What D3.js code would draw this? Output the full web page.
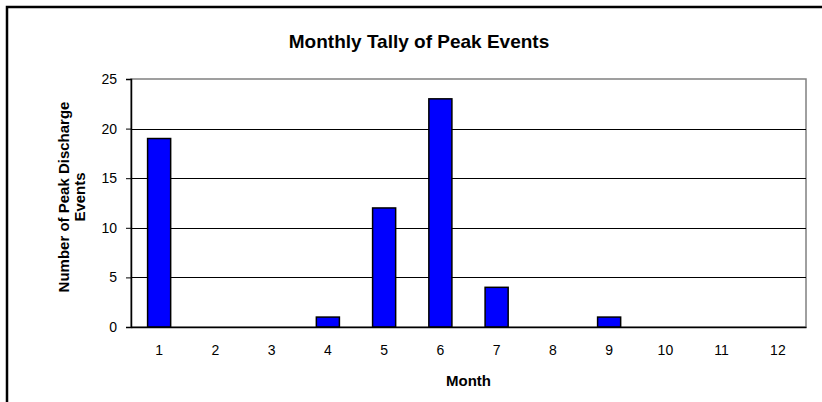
<!DOCTYPE html>
<html>
<head>
<meta charset="utf-8">
<script src="https://cdn.jsdelivr.net/npm/d3@7"></script>
<style>
  body { margin: 0; background: #fff; }
  text { font-family: Arial, "Liberation Sans", sans-serif; fill: #000; }
</style>
</head>
<body>
<div id="app"></div>
<script>
// Chart data
const months = ["1", "2", "3", "4", "5", "6", "7", "8", "9", "10", "11", "12"];
const peakCounts = [19, 0, 0, 1, 12, 23, 4, 0, 1, 0, 0, 0];
const yTicks = [0, 5, 10, 15, 20, 25];

const width = 822, height = 402;
const margin = { top: 79, right: 16, bottom: 75, left: 131 };
const plotW = width - margin.left - margin.right;
const plotH = height - margin.top - margin.bottom;

const svg = d3.select("#app").append("svg")
  .attr("width", width)
  .attr("height", height);

// outer chart frame (only top and left edges show in the picture)
svg.append("path")
  .attr("d", `M7,${height} L7,7 L${width},7`)
  .attr("fill", "none")
  .attr("stroke", "#000")
  .attr("stroke-width", 2.5);

const g = svg.append("g")
  .attr("transform", `translate(${margin.left},${margin.top})`);

const x = d3.scaleBand().domain(months).range([0, plotW]).paddingInner(0.59).paddingOuter(0.295);
const y = d3.scaleLinear().domain([0, 25]).range([plotH, 0]);

// plot area border (grey)
g.append("rect")
  .attr("width", plotW)
  .attr("height", plotH)
  .attr("fill", "none")
  .attr("stroke", "#808080")
  .attr("stroke-width", 1.5);

// gridlines
g.selectAll(".grid")
  .data(yTicks.filter(d => d > 0 && d < 25))
  .join("line")
  .attr("x1", 0).attr("x2", plotW)
  .attr("y1", d => Math.round(y(d)) + 0.5)
  .attr("y2", d => Math.round(y(d)) + 0.5)
  .attr("stroke", "#000")
  .attr("stroke-width", 1);

// bars
g.selectAll(".bar")
  .data(peakCounts)
  .join("rect")
  .attr("x", (d, i) => x(months[i]))
  .attr("y", d => y(d))
  .attr("width", x.bandwidth())
  .attr("height", d => plotH - y(d))
  .attr("fill", d => d > 0 ? "#0000ff" : "none")
  .attr("stroke", d => d > 0 ? "#000" : "none")
  .attr("stroke-width", 1.5);

// y axis
const yAxis = g.append("g")
  .call(d3.axisLeft(y).tickValues(yTicks).tickSize(5).tickPadding(9));
yAxis.select(".domain").attr("stroke", "#000").attr("stroke-width", 1.5);
yAxis.selectAll(".tick line").attr("stroke", "#000");
yAxis.selectAll("text").style("font-size", "14px").attr("fill", "#000");

// x axis
const xAxis = g.append("g")
  .attr("transform", `translate(0,${plotH})`)
  .call(d3.axisBottom(x).tickSize(0).tickPadding(18));
xAxis.select(".domain").attr("stroke", "#000").attr("stroke-width", 1.5);
xAxis.selectAll("text").style("font-size", "14px").attr("fill", "#000");

// title
svg.append("text")
  .attr("x", 419)
  .attr("y", 47.5)
  .attr("text-anchor", "middle")
  .style("font-size", "19px")
  .style("font-weight", "bold")
  .text("Monthly Tally of Peak Events");

// axis labels
svg.append("text")
  .attr("x", margin.left + plotW / 2)
  .attr("y", 386)
  .attr("text-anchor", "middle")
  .style("font-size", "15px")
  .style("font-weight", "bold")
  .text("Month");

const yLabel = svg.append("text")
  .attr("transform", `translate(69,${margin.top + plotH / 2 - 6}) rotate(-90)`)
  .attr("text-anchor", "middle")
  .style("font-size", "15px")
  .style("font-weight", "bold");
yLabel.append("tspan").attr("x", 0).attr("dy", 0).text("Number of Peak Discharge");
yLabel.append("tspan").attr("x", 0).attr("dy", 16).text("Events");
</script>
</body>
</html>
